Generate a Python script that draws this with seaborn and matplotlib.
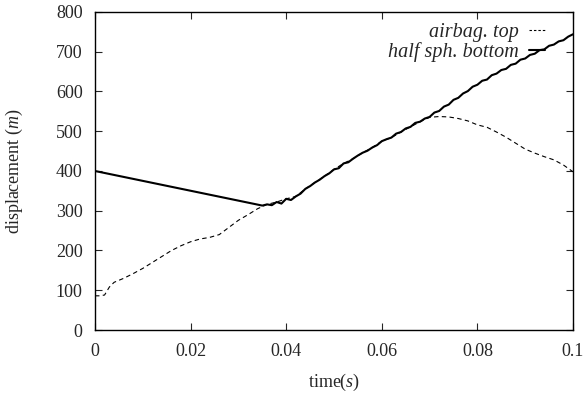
import numpy as np
import pandas as pd
import matplotlib
matplotlib.use("Agg")
import matplotlib.pyplot as plt
import seaborn as sns

# half sphere bottom: straight start then noisy rise
sph_time = [0.0, 0.035, 0.036, 0.037, 0.038, 0.039, 0.040, 0.041, 0.042, 0.043, 0.044,
            0.045, 0.046, 0.047, 0.048, 0.049, 0.050, 0.051, 0.052, 0.053, 0.054,
            0.055, 0.056, 0.057, 0.058, 0.059, 0.060, 0.061, 0.062, 0.063, 0.064,
            0.065, 0.066, 0.067, 0.068, 0.069, 0.070, 0.071, 0.072, 0.073, 0.074,
            0.075, 0.076, 0.077, 0.078, 0.079, 0.080, 0.081, 0.082, 0.083, 0.084,
            0.085, 0.086, 0.087, 0.088, 0.089, 0.090, 0.091, 0.092, 0.093, 0.094,
            0.095, 0.096, 0.097, 0.098, 0.099, 0.100]
sph_disp = [400, 313, 316, 314, 322, 318, 330, 327, 336, 343, 355,
            362, 371, 378, 387, 394, 404, 407, 419, 422, 431,
            439, 446, 451, 459, 465, 475, 480, 484, 494, 498,
            507, 511, 521, 524, 532, 536, 547, 551, 562, 567,
            579, 584, 595, 601, 612, 617, 627, 630, 641, 645,
            654, 657, 667, 670, 680, 683, 692, 695, 704, 706,
            715, 718, 726, 729, 738, 744]

# airbag top
bag_time = [0.0, 0.001, 0.002, 0.003, 0.004, 0.006, 0.008, 0.010, 0.012, 0.014,
            0.016, 0.018, 0.020, 0.022, 0.024, 0.026, 0.028, 0.030, 0.032, 0.034,
            0.036, 0.038, 0.040, 0.042, 0.044, 0.046, 0.048, 0.050, 0.052, 0.054,
            0.056, 0.058, 0.060, 0.062, 0.064, 0.066, 0.068, 0.070, 0.072, 0.074,
            0.076, 0.078, 0.080, 0.082, 0.084, 0.086, 0.088, 0.090, 0.092, 0.094,
            0.096, 0.098, 0.100]
bag_disp = [86, 86, 88, 108, 120, 130, 142, 155, 170, 185,
            200, 212, 222, 229, 233, 240, 258, 276, 290, 305,
            316, 322, 330, 336, 355, 371, 387, 404, 419, 431,
            446, 459, 475, 484, 498, 511, 524, 535, 537, 536,
            532, 526, 516, 510, 498, 485, 470, 455, 445, 436,
            428, 415, 398]

sns.set_style("ticks")
plt.rcParams["font.family"] = ["Liberation Serif", "DejaVu Serif"]
plt.rcParams["mathtext.fontset"] = "custom"
plt.rcParams["mathtext.rm"] = "Liberation Serif"
plt.rcParams["mathtext.it"] = "Liberation Serif:italic"

fig = plt.figure(figsize=(5.85, 3.93), dpi=100)
ax = fig.add_axes([0.1624, 0.1603, 0.8171, 0.8092])

sns.lineplot(x=bag_time, y=bag_disp, ax=ax, color="black", linewidth=0.8,
             linestyle=(0, (4, 3)), label="airbag. top")
sns.lineplot(x=sph_time, y=sph_disp, ax=ax, color="black", linewidth=1.5,
             label="half sph. bottom")

ax.set_xlim(0, 0.1)
ax.set_ylim(0, 800)
ax.set_xticks([0, 0.02, 0.04, 0.06, 0.08, 0.1])
ax.set_xticklabels(["0", "0.02", "0.04", "0.06", "0.08", "0.1"])
ax.set_yticks(range(0, 801, 100))
ax.tick_params(direction="in", top=True, right=True, labelsize=13, length=5, width=0.8, pad=9)
for s in ax.spines.values():
    s.set_linewidth(1.0)
    s.set_color("black")

ax.set_xlabel(r"time$\mathit{(s)}$", fontsize=13, labelpad=9)
ax.set_ylabel(r"displacement $\mathit{(m)}$", fontsize=13, labelpad=22)

leg = ax.legend(loc="upper right", frameon=False, markerfirst=False, fontsize=14.5,
                handlelength=0.8, handletextpad=0.5, borderaxespad=0,
                borderpad=0, labelspacing=0.0,
                bbox_to_anchor=(0.9415, 0.966))
for t in leg.get_texts():
    t.set_fontstyle("italic")
leg.get_lines()[0].set_dashes((2.2, 1.8))

fig.savefig("out.png", dpi=100)
